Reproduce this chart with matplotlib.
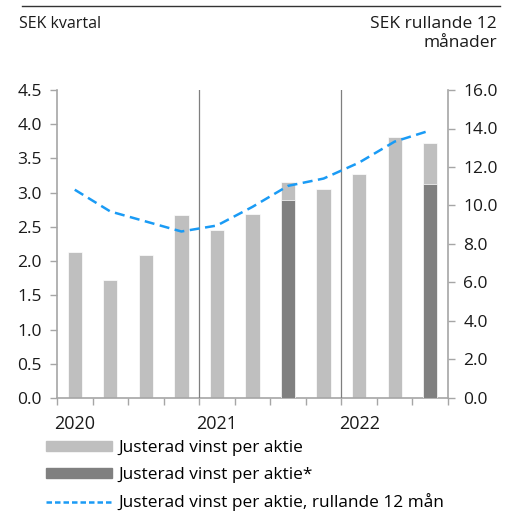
import numpy as np
import matplotlib.pyplot as plt
from matplotlib.patches import Patch
from matplotlib.lines import Line2D

plt.rcParams['font.family'] = ['Open Sans', 'DejaVu Sans']

# quarterly data, 2020 Q1 .. 2022 Q3
quarters = ['Q1 2020', 'Q2 2020', 'Q3 2020', 'Q4 2020',
            'Q1 2021', 'Q2 2021', 'Q3 2021', 'Q4 2021',
            'Q1 2022', 'Q2 2022', 'Q3 2022']
eps = [2.13, 1.73, 2.09, 2.67, 2.46, 2.69, 3.16, 3.05, 3.27, 3.81, 3.73]
eps_star = [np.nan, np.nan, np.nan, np.nan, np.nan, np.nan, 2.89, np.nan, np.nan, np.nan, 3.12]
eps_r12 = [10.82, 9.69, 9.17, 8.65, 8.96, 9.93, 11.02, 11.40, 12.23, 13.32, 13.90]
years = ['2020', '2021', '2022']
year_pos = [0, 4, 8]

light = '#BFBFBF'
dark = '#808080'
blue = '#1A9BF5'
axcol = '#A6A6A6'
txt = '#1a1a1a'

fig = plt.figure(figsize=(5.11, 5.14), dpi=100)
ax = fig.add_axes([0.1115, 0.2257, 0.7652, 0.5992])
ax2 = ax.twinx()

x = np.arange(len(quarters))
ax.bar(x, eps, width=0.4, color=light, edgecolor='white', linewidth=0.5, zorder=2)
ax.bar(x, eps_star, width=0.4, color=dark, edgecolor='white', linewidth=0.5, zorder=3)

# year separators
for b in [3.5, 7.5]:
    ax.axvline(b, color='#7F7F7F', lw=0.9, zorder=4)

ax2.plot(x, eps_r12, color=blue, lw=1.8, dashes=(4, 2.2), zorder=5)

ax.set_xlim(-0.5, len(quarters) - 0.5)
ax.set_ylim(0, 4.5)
ax2.set_ylim(0, 16)
ax.set_yticks(np.arange(0, 4.51, 0.5))
ax.set_yticklabels([f'{v:.1f}' for v in np.arange(0, 4.51, 0.5)])
ax2.set_yticks(np.arange(0, 16.1, 2))
ax2.set_yticklabels([f'{v:.1f}' for v in np.arange(0, 16.1, 2)])

ax.set_xticks(np.arange(-0.5, len(quarters), 1))
ax.set_xticklabels([])
ax.set_xticks(year_pos, minor=True)
ax.set_xticklabels(years, minor=True)
ax.tick_params(axis='x', which='major', length=5, color=axcol, width=1)
ax.tick_params(axis='x', which='minor', length=0, pad=12, labelsize=13, labelcolor=txt)
ax.tick_params(axis='y', length=5, color=axcol, width=1, labelsize=12.5, pad=6, labelcolor=txt)
ax2.tick_params(axis='y', length=5, color=axcol, width=1, labelsize=12.5, pad=6, labelcolor=txt)

for a in (ax, ax2):
    a.spines['top'].set_visible(False)
    for s in ('left', 'right', 'bottom'):
        a.spines[s].set_color(axcol)
        a.spines[s].set_linewidth(1.2)
ax.spines['right'].set_visible(False)
ax2.spines['left'].set_visible(False)
ax2.spines['bottom'].set_visible(False)

# header
fig.add_artist(Line2D([22 / 511, 500 / 511], [1 - 6 / 514, 1 - 6 / 514], color='#333333', lw=1))
fig.text(19 / 511, 1 - 24 / 514, 'SEK kvartal', fontsize=11.5, va='center', ha='left', color=txt)
fig.text(497 / 511, 1 - 24 / 514, 'SEK rullande 12', fontsize=12.5, va='center', ha='right', color=txt)
fig.text(497 / 511, 1 - 43 / 514, 'månader', fontsize=12.5, va='center', ha='right', color=txt)

handles = [Patch(color=light), Patch(color=dark),
           Line2D([0], [0], color=blue, lw=1.8, dashes=(2.2, 1.2))]
labels = ['Justerad vinst per aktie', 'Justerad vinst per aktie*',
          'Justerad vinst per aktie, rullande 12 mån']
fig.legend(handles, labels, loc='upper left', bbox_to_anchor=(30 / 511, 1 - 425 / 514),
           frameon=False, fontsize=12.4, handlelength=3.85, handleheight=0.5,
           handletextpad=0.4, labelspacing=0.6)

fig.savefig('out.png', dpi=100)
